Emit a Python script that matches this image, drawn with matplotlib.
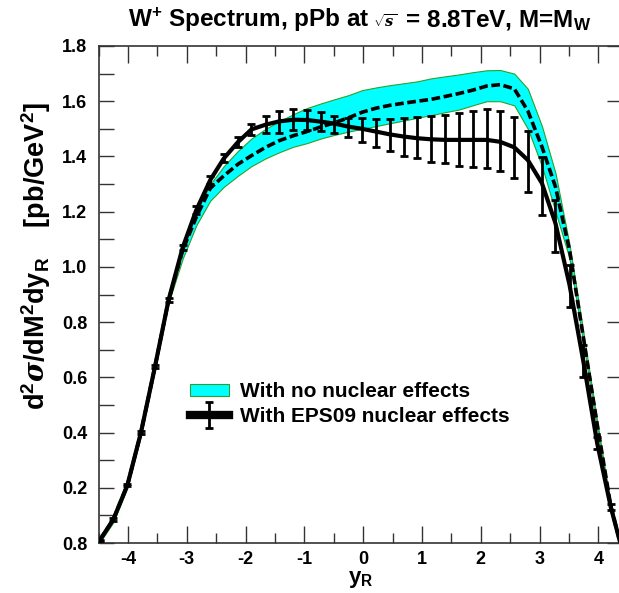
import matplotlib
matplotlib.use("Agg")
import matplotlib.pyplot as plt
from matplotlib.patches import Patch
from matplotlib.lines import Line2D
from matplotlib.container import ErrorbarContainer
from matplotlib.legend_handler import HandlerErrorbar, HandlerTuple
from matplotlib.ticker import MultipleLocator, FixedLocator, FixedFormatter

plt.rcParams['font.family'] = ['Liberation Sans', 'DejaVu Sans']
plt.rcParams['font.weight'] = 'bold'
plt.rcParams['axes.unicode_minus'] = False
plt.rcParams['mathtext.fontset'] = 'custom'
plt.rcParams['mathtext.rm'] = 'Liberation Sans:bold'
plt.rcParams['mathtext.bf'] = 'Liberation Sans:bold'
plt.rcParams['mathtext.it'] = 'DejaVu Serif:italic'

# ---- data ----
y_R = [-4.48, -4.25, -4.01, -3.78, -3.54, -3.31, -3.07, -2.84, -2.60, -2.37,
       -2.13, -1.90, -1.66, -1.43, -1.19, -0.96, -0.72, -0.49, -0.25, -0.02,
       0.22, 0.45, 0.69, 0.92, 1.16, 1.39, 1.63, 1.86, 2.10, 2.33,
       2.57, 2.80, 3.04, 3.27, 3.51, 3.74, 3.98, 4.21, 4.36]

# EPS09 nuclear effects: central, lower and upper
eps_central = [0.010, 0.085, 0.210, 0.400, 0.640, 0.880, 1.070, 1.205, 1.315, 1.393,
               1.452, 1.498, 1.515, 1.527, 1.533, 1.532, 1.526, 1.519, 1.508, 1.500,
               1.490, 1.480, 1.472, 1.466, 1.462, 1.460, 1.460, 1.460, 1.460, 1.453,
               1.433, 1.387, 1.303, 1.158, 0.934, 0.663, 0.361, 0.131, 0.010]
eps_lower = [0.008, 0.080, 0.205, 0.395, 0.634, 0.873, 1.062, 1.190, 1.300, 1.380,
             1.433, 1.478, 1.484, 1.485, 1.494, 1.494, 1.493, 1.484, 1.472, 1.452,
             1.433, 1.421, 1.402, 1.393, 1.381, 1.375, 1.365, 1.363, 1.357, 1.348,
             1.321, 1.272, 1.188, 1.055, 0.856, 0.602, 0.339, 0.120, 0.010]
eps_upper = [0.012, 0.090, 0.215, 0.405, 0.646, 0.887, 1.078, 1.220, 1.330, 1.410,
             1.470, 1.518, 1.545, 1.565, 1.573, 1.569, 1.562, 1.548, 1.538, 1.538,
             1.535, 1.535, 1.538, 1.542, 1.547, 1.550, 1.556, 1.565, 1.571, 1.565,
             1.542, 1.493, 1.397, 1.242, 1.007, 0.717, 0.385, 0.140, 0.010]

# no nuclear effects: central (dashed) and band
nonuc_central = [0.010, 0.085, 0.210, 0.400, 0.640, 0.880, 1.060, 1.180, 1.285, 1.330,
                 1.372, 1.403, 1.433, 1.457, 1.475, 1.490, 1.507, 1.522, 1.540, 1.560,
                 1.575, 1.585, 1.593, 1.600, 1.607, 1.617, 1.628, 1.640, 1.655, 1.660,
                 1.645, 1.565, 1.435, 1.290, 1.060, 0.750, 0.430, 0.135, 0.010]
nonuc_lower = [0.002, 0.075, 0.200, 0.390, 0.630, 0.870, 1.030, 1.150, 1.240, 1.290,
               1.330, 1.365, 1.393, 1.415, 1.435, 1.448, 1.465, 1.478, 1.490, 1.500,
               1.510, 1.520, 1.530, 1.540, 1.550, 1.560, 1.570, 1.585, 1.600, 1.600,
               1.585, 1.500, 1.365, 1.200, 1.030, 0.730, 0.410, 0.120, 0.005]
nonuc_upper = [0.015, 0.090, 0.215, 0.405, 0.645, 0.885, 1.070, 1.200, 1.300, 1.365,
               1.420, 1.465, 1.500, 1.527, 1.553, 1.575, 1.592, 1.607, 1.622, 1.640,
               1.650, 1.658, 1.665, 1.672, 1.683, 1.690, 1.697, 1.705, 1.712, 1.713,
               1.700, 1.645, 1.510, 1.340, 1.080, 0.770, 0.440, 0.140, 0.015]

x_ticks = [-4, -3, -2, -1, 0, 1, 2, 3, 4]
y_ticks = [0.0, 0.2, 0.4, 0.6, 0.8, 1.0, 1.2, 1.4, 1.6, 1.8]
y_ticklabels = ['0.8', '0.2', '0.4', '0.6', '0.8', '1.0', '1.2', '1.4', '1.6', '1.8']

title_parts = [r"W$^{+}$ Spectrum, pPb at ", r"$\sqrt{s}$", r" = 8.8TeV, M=M$_{\mathrm{W}}$"]
ylabel = r"d$^{2}\sigma$/dM$^{2}$dy$_{\mathrm{R}}$    [pb/GeV$^{2}$]"
xlabel = r"y$_{\mathrm{R}}$"
legend_labels = ["With no nuclear effects", "With EPS09 nuclear effects"]

# ---- figure ----
W, H = 619, 593
fig = plt.figure(figsize=(W / 100, H / 100), dpi=100)
ax = fig.add_axes([98.6 / W, 50 / H, 523.3 / W, 497 / H])

ax.fill_between(y_R, nonuc_lower, nonuc_upper, facecolor='#00ffff',
                edgecolor='#2ca02c', linewidth=0.8, zorder=1)
ax.plot(y_R, nonuc_central, color='black', linewidth=2.6,
        dashes=(2.4, 1.0), zorder=2)
ax.plot(y_R, eps_central, color='black', linewidth=3.0, zorder=3)

n = len(y_R) - 1
err_lo = [c - l for c, l in zip(eps_central[:n], eps_lower[:n])]
err_hi = [u - c for c, u in zip(eps_central[:n], eps_upper[:n])]
eb = ax.errorbar(y_R[:n], eps_central[:n], yerr=[err_lo, err_hi], fmt='none',
                 ecolor='black', elinewidth=2.0, capsize=3.0, capthick=2.0,
                 zorder=4)

ax.set_xlim(-4.5, 4.4)
ax.set_ylim(0, 1.8)

ax.xaxis.set_major_locator(FixedLocator(x_ticks))
ax.xaxis.set_minor_locator(MultipleLocator(0.5))
ax.yaxis.set_major_locator(FixedLocator(y_ticks))
ax.yaxis.set_major_formatter(FixedFormatter(y_ticklabels))
ax.yaxis.set_minor_locator(MultipleLocator(0.1))

ax.tick_params(axis='both', which='both', direction='in', top=True, right=True,
               color='#333333', width=1.0, labelsize=13)
ax.tick_params(axis='x', which='major', length=12, pad=6)
ax.tick_params(axis='x', which='minor', length=7)
ax.tick_params(axis='y', which='major', length=11, pad=8)
ax.tick_params(axis='y', which='minor', length=11, right=False)
for lab in ax.get_xticklabels() + ax.get_yticklabels():
    lab.set_fontweight('bold')
for sp in ax.spines.values():
    sp.set_color('#333333')
    sp.set_linewidth(1.2)

# title built from pieces so that the square root stays small
base_y = H - 27
t1 = fig.text(128 / W, base_y / H, title_parts[0], fontsize=17.5,
              fontweight='bold', ha='left', va='baseline')
t2 = ax.annotate(title_parts[1], xy=(1.0, base_y), xycoords=(t1, 'figure pixels'),
                 xytext=(2, 0), textcoords='offset points', fontsize=10.5,
                 ha='left', va='baseline', annotation_clip=False)
t3 = ax.annotate(title_parts[2], xy=(1.0, base_y), xycoords=(t2, 'figure pixels'),
                 xytext=(2, 0), textcoords='offset points', fontsize=17.5,
                 fontweight='bold', ha='left', va='baseline', annotation_clip=False)

ax.set_ylabel(ylabel, fontsize=19.5, fontweight='bold')
ax.yaxis.set_label_coords(-0.087, 0.578)
ax.set_xlabel(xlabel, fontsize=16, fontweight='bold')
ax.xaxis.set_label_coords(0.5, -0.052)
ax.xaxis.label.set_verticalalignment('top')

band_handle = Patch(facecolor='#00ffff', edgecolor='#2ca02c', linewidth=0.8)
line_handle = Line2D([], [], color='black', linewidth=6)
leg = ax.legend([band_handle, (line_handle, eb)], legend_labels, loc='upper left',
                bbox_to_anchor=(0.1747, 0.324), frameon=False, borderpad=0,
                borderaxespad=0, handlelength=1.85, handleheight=0.5,
                handletextpad=0.53, labelspacing=0.27,
                handler_map={ErrorbarContainer: HandlerErrorbar(yerr_size=0.63),
                             tuple: HandlerTuple(ndivide=1)},
                prop={'weight': 'bold', 'size': 15})

fig.savefig("out.png", dpi=100)
